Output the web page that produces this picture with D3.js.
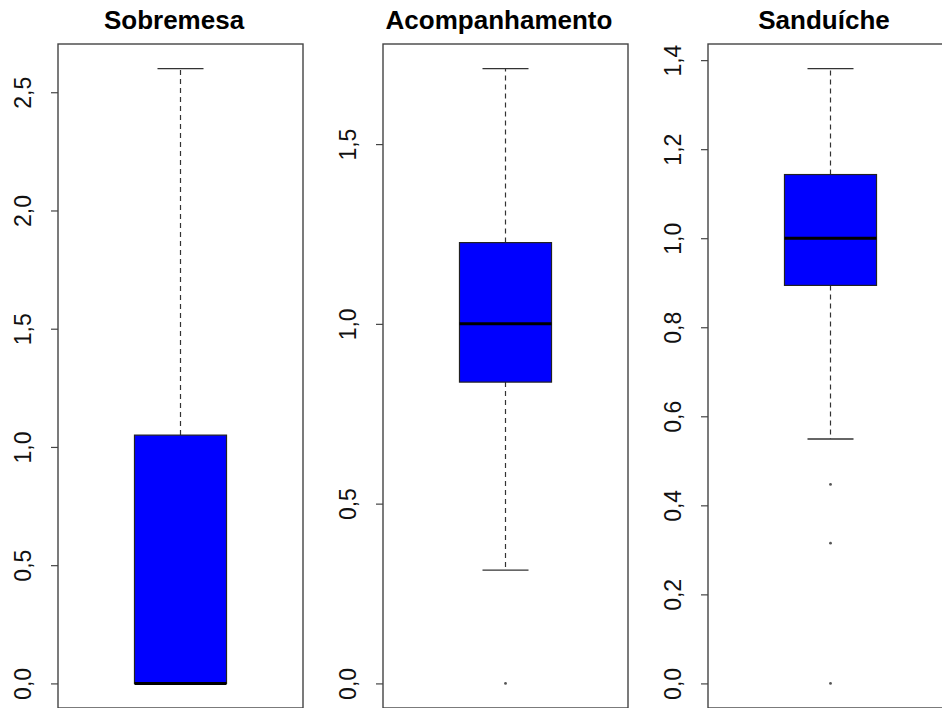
<!DOCTYPE html>
<html>
<head>
<meta charset="utf-8">
<script src="https://cdn.jsdelivr.net/npm/d3@7"></script>
<style>
  html, body { margin: 0; padding: 0; background: #fff; }
  svg { display: block; }
</style>
</head>
<body>
<svg id="chart" width="942" height="708"></svg>
<script>
// Box summary per category (lower whisker, quartiles, median, upper whisker)
const categories   = ["Sobremesa", "Acompanhamento", "Sanduíche"];
const whiskerLow   = [0.0,   0.315, 0.549];
const quartile1    = [0.0,   0.838, 0.894];
const medians      = [0.0,   1.0,   1.0];
const quartile3    = [1.05,  1.226, 1.143];
const whiskerHigh  = [2.6,   1.71,  1.381];
const outliers     = [[], [0.0], [0.447, 0.315, 0.0]];
const tickValues   = [
  [0, 0.5, 1.0, 1.5, 2.0, 2.5],
  [0, 0.5, 1.0, 1.5],
  [0, 0.2, 0.4, 0.6, 0.8, 1.0, 1.2, 1.4]
];

const svg = d3.select("#chart");
const panelLeft = [58, 383, 708];
const panelWidth = 245;
const plotTop = 44, plotBottom = 708;
const fmt = v => d3.format(".1f")(v).replace(".", ",");

categories.forEach((cat, i) => {
  const left = panelLeft[i];
  const x = d3.scaleLinear().domain([0.5, 1.5]).range([left, left + panelWidth]);

  // Data range of the panel, padded by 4% on each side
  const vals = [whiskerLow[i], whiskerHigh[i], ...outliers[i]];
  const lo = d3.min(vals), hi = d3.max(vals), pad = (hi - lo) * 0.04;
  const y = d3.scaleLinear().domain([lo - pad, hi + pad]).range([plotBottom, plotTop]);

  const g = svg.append("g");

  // Y axis with rotated labels
  const axis = d3.axisLeft(y).tickValues(tickValues[i]).tickFormat(fmt).tickSize(7).tickPadding(0);
  const ax = g.append("g").attr("transform", `translate(${left},0)`).call(axis);
  ax.select(".domain").remove();
  ax.selectAll(".tick line").attr("stroke", "#444").attr("stroke-width", 1.2);
  ax.selectAll(".tick text")
    .attr("x", -35).attr("dy", 0)
    .attr("text-anchor", "middle")
    .attr("dominant-baseline", "central")
    .attr("transform", "rotate(-90,-35,0)")
    .attr("font-family", "Liberation Sans, Arial, sans-serif")
    .attr("font-size", 23)
    .attr("fill", "#111");

  const cx = x(1);
  const hw = x(1.1878) - x(1);
  const cw = hw / 2;

  // Dashed whiskers
  g.append("line")
    .attr("x1", cx).attr("x2", cx)
    .attr("y1", y(quartile3[i])).attr("y2", y(whiskerHigh[i]))
    .attr("stroke", "#333").attr("stroke-width", 1.2).attr("stroke-dasharray", "5,4");
  g.append("line")
    .attr("x1", cx).attr("x2", cx)
    .attr("y1", y(quartile1[i])).attr("y2", y(whiskerLow[i]))
    .attr("stroke", "#333").attr("stroke-width", 1.2).attr("stroke-dasharray", "5,4");

  // Whisker caps
  [whiskerHigh[i], whiskerLow[i]].forEach(v => {
    g.append("line")
      .attr("x1", cx - cw).attr("x2", cx + cw)
      .attr("y1", y(v)).attr("y2", y(v))
      .attr("stroke", "#333").attr("stroke-width", 1.4);
  });

  // Box
  g.append("rect")
    .attr("x", cx - hw).attr("width", 2 * hw)
    .attr("y", y(quartile3[i])).attr("height", y(quartile1[i]) - y(quartile3[i]))
    .attr("fill", "#0000ff").attr("stroke", "#222").attr("stroke-width", 1.2);

  // Median
  g.append("line")
    .attr("x1", cx - hw).attr("x2", cx + hw)
    .attr("y1", y(medians[i])).attr("y2", y(medians[i]))
    .attr("stroke", "#000").attr("stroke-width", 3);

  // Outlying points
  g.selectAll("circle.out").data(outliers[i]).join("circle")
    .attr("class", "out")
    .attr("cx", cx).attr("cy", d => y(d)).attr("r", 1.4)
    .attr("fill", "#555");

  // Plot frame
  g.append("rect")
    .attr("x", left).attr("y", plotTop)
    .attr("width", panelWidth).attr("height", plotBottom - plotTop)
    .attr("fill", "none").attr("stroke", "#444").attr("stroke-width", 1.4);

  // Panel title
  g.append("text")
    .attr("x", left + 116).attr("y", 29)
    .attr("text-anchor", "middle")
    .attr("font-family", "Liberation Sans, Arial, sans-serif")
    .attr("font-weight", "bold").attr("font-size", 26)
    .attr("fill", "#000")
    .text(cat);
});
</script>
</body>
</html>
